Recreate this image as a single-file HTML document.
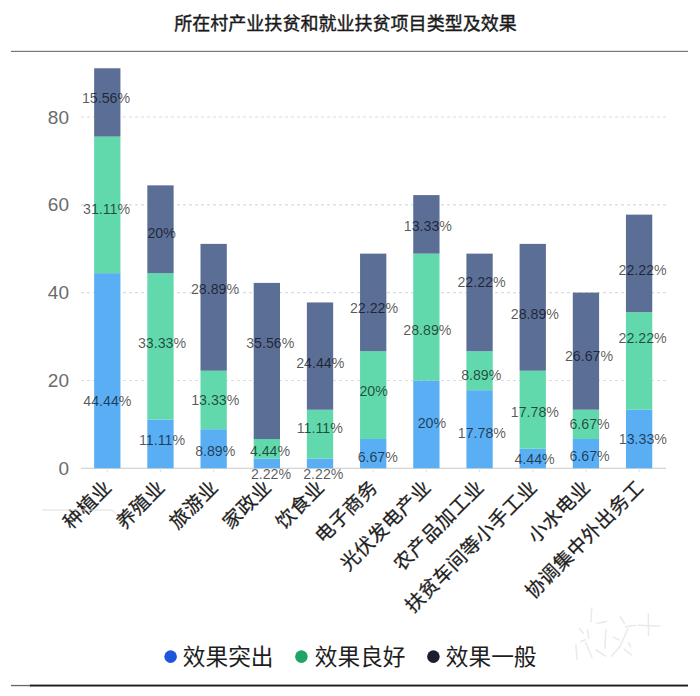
<!DOCTYPE html>
<html lang="zh">
<head>
<meta charset="utf-8">
<title>所在村产业扶贫和就业扶贫项目类型及效果</title>
<style>
html,body{margin:0;padding:0;background:#fff;}
body{width:700px;height:696px;overflow:hidden;font-family:"Liberation Sans",sans-serif;}
svg{display:block;font-family:"Liberation Sans",sans-serif;}
</style>
</head>
<body>
<svg width="700" height="696" viewBox="0 0 700 696">
<rect width="700" height="696" fill="#fff"/>
<rect x="11" y="50.8" width="677" height="1.2" fill="#777"/>
<rect x="11" y="684.9" width="20" height="1.3" fill="#666"/>
<rect x="30" y="684.6" width="658" height="1.9" fill="#1c1c1c"/>
<line x1="81.0" x2="666.0" y1="380.45" y2="380.45" stroke="#dcdcdc" stroke-width="1.1" stroke-dasharray="3 3"/>
<line x1="81.0" x2="666.0" y1="292.65" y2="292.65" stroke="#dcdcdc" stroke-width="1.1" stroke-dasharray="3 3"/>
<line x1="81.0" x2="666.0" y1="204.85" y2="204.85" stroke="#dcdcdc" stroke-width="1.1" stroke-dasharray="3 3"/>
<line x1="81.0" x2="666.0" y1="117.05" y2="117.05" stroke="#dcdcdc" stroke-width="1.1" stroke-dasharray="3 3"/>
<line x1="81.0" x2="666.0" y1="468.25" y2="468.25" stroke="#c8c8c8" stroke-width="1.2"/>
<text x="69" y="474.75" text-anchor="end" font-size="19" fill="#6b6b6b">0</text>
<text x="69" y="386.95" text-anchor="end" font-size="19" fill="#6b6b6b">20</text>
<text x="69" y="299.15" text-anchor="end" font-size="19" fill="#6b6b6b">40</text>
<text x="69" y="211.35" text-anchor="end" font-size="19" fill="#6b6b6b">60</text>
<text x="69" y="123.55" text-anchor="end" font-size="19" fill="#6b6b6b">80</text>
<rect x="94.14" y="273.16" width="26.3" height="195.09" fill="#5AAEF3"/>
<rect x="94.14" y="136.59" width="26.3" height="136.57" fill="#62D9AD"/>
<rect x="94.14" y="68.28" width="26.3" height="68.31" fill="#5B6E96"/>
<line x1="107.29" x2="107.29" y1="468.25" y2="472.25" stroke="#e2e2e2" stroke-width="1"/>
<rect x="147.32" y="419.48" width="26.3" height="48.77" fill="#5AAEF3"/>
<rect x="147.32" y="273.16" width="26.3" height="146.32" fill="#62D9AD"/>
<rect x="147.32" y="185.36" width="26.3" height="87.80" fill="#5B6E96"/>
<line x1="160.47" x2="160.47" y1="468.25" y2="472.25" stroke="#e2e2e2" stroke-width="1"/>
<rect x="200.50" y="429.22" width="26.3" height="39.03" fill="#5AAEF3"/>
<rect x="200.50" y="370.70" width="26.3" height="58.52" fill="#62D9AD"/>
<rect x="200.50" y="243.88" width="26.3" height="126.83" fill="#5B6E96"/>
<line x1="213.65" x2="213.65" y1="468.25" y2="472.25" stroke="#e2e2e2" stroke-width="1"/>
<rect x="253.69" y="458.50" width="26.3" height="9.75" fill="#5AAEF3"/>
<rect x="253.69" y="439.01" width="26.3" height="19.49" fill="#62D9AD"/>
<rect x="253.69" y="282.90" width="26.3" height="156.11" fill="#5B6E96"/>
<line x1="266.84" x2="266.84" y1="468.25" y2="472.25" stroke="#e2e2e2" stroke-width="1"/>
<rect x="306.87" y="458.50" width="26.3" height="9.75" fill="#5AAEF3"/>
<rect x="306.87" y="409.73" width="26.3" height="48.77" fill="#62D9AD"/>
<rect x="306.87" y="302.44" width="26.3" height="107.29" fill="#5B6E96"/>
<line x1="320.02" x2="320.02" y1="468.25" y2="472.25" stroke="#e2e2e2" stroke-width="1"/>
<rect x="360.05" y="438.97" width="26.3" height="29.28" fill="#5AAEF3"/>
<rect x="360.05" y="351.17" width="26.3" height="87.80" fill="#62D9AD"/>
<rect x="360.05" y="253.62" width="26.3" height="97.55" fill="#5B6E96"/>
<line x1="373.20" x2="373.20" y1="468.25" y2="472.25" stroke="#e2e2e2" stroke-width="1"/>
<rect x="413.23" y="380.45" width="26.3" height="87.80" fill="#5AAEF3"/>
<rect x="413.23" y="253.62" width="26.3" height="126.83" fill="#62D9AD"/>
<rect x="413.23" y="195.10" width="26.3" height="58.52" fill="#5B6E96"/>
<line x1="426.38" x2="426.38" y1="468.25" y2="472.25" stroke="#e2e2e2" stroke-width="1"/>
<rect x="466.41" y="390.20" width="26.3" height="78.05" fill="#5AAEF3"/>
<rect x="466.41" y="351.17" width="26.3" height="39.03" fill="#62D9AD"/>
<rect x="466.41" y="253.62" width="26.3" height="97.55" fill="#5B6E96"/>
<line x1="479.56" x2="479.56" y1="468.25" y2="472.25" stroke="#e2e2e2" stroke-width="1"/>
<rect x="519.60" y="448.76" width="26.3" height="19.49" fill="#5AAEF3"/>
<rect x="519.60" y="370.70" width="26.3" height="78.05" fill="#62D9AD"/>
<rect x="519.60" y="243.88" width="26.3" height="126.83" fill="#5B6E96"/>
<line x1="532.75" x2="532.75" y1="468.25" y2="472.25" stroke="#e2e2e2" stroke-width="1"/>
<rect x="572.78" y="438.97" width="26.3" height="29.28" fill="#5AAEF3"/>
<rect x="572.78" y="409.69" width="26.3" height="29.28" fill="#62D9AD"/>
<rect x="572.78" y="292.61" width="26.3" height="117.08" fill="#5B6E96"/>
<line x1="585.93" x2="585.93" y1="468.25" y2="472.25" stroke="#e2e2e2" stroke-width="1"/>
<rect x="625.96" y="409.73" width="26.3" height="58.52" fill="#5AAEF3"/>
<rect x="625.96" y="312.19" width="26.3" height="97.55" fill="#62D9AD"/>
<rect x="625.96" y="214.64" width="26.3" height="97.55" fill="#5B6E96"/>
<line x1="639.11" x2="639.11" y1="468.25" y2="472.25" stroke="#e2e2e2" stroke-width="1"/>
<g font-size="14.2" text-anchor="middle" fill="#000" fill-opacity="0.66">
<text x="106.00" y="103.00">15.56%</text>
<text x="106.60" y="213.70">31.11%</text>
<text x="107.40" y="406.20">44.44%</text>
<text x="161.60" y="237.50">20%</text>
<text x="162.00" y="347.50">33.33%</text>
<text x="162.00" y="445.00">11.11%</text>
<text x="215.00" y="294.20">28.89%</text>
<text x="215.25" y="404.50">13.33%</text>
<text x="215.25" y="456.20">8.89%</text>
<text x="270.25" y="347.50">35.56%</text>
<text x="270.00" y="456.20">4.44%</text>
<text x="271.00" y="479.40">2.22%</text>
<text x="320.25" y="367.50">24.44%</text>
<text x="319.75" y="433.00">11.11%</text>
<text x="323.30" y="479.40">2.22%</text>
<text x="374.00" y="312.50">22.22%</text>
<text x="373.60" y="396.20">20%</text>
<text x="377.75" y="462.00">6.67%</text>
<text x="427.90" y="231.20">13.33%</text>
<text x="427.40" y="335.00">28.89%</text>
<text x="431.90" y="428.35">20%</text>
<text x="481.50" y="287.00">22.22%</text>
<text x="481.25" y="380.00">8.89%</text>
<text x="481.90" y="437.50">17.78%</text>
<text x="534.90" y="318.70">28.89%</text>
<text x="534.90" y="417.00">17.78%</text>
<text x="534.60" y="463.70">4.44%</text>
<text x="589.00" y="361.20">26.67%</text>
<text x="589.60" y="429.20">6.67%</text>
<text x="589.60" y="461.20">6.67%</text>
<text x="642.60" y="275.00">22.22%</text>
<text x="642.60" y="343.00">22.22%</text>
<text x="642.90" y="444.20">13.33%</text>
</g>
<g font-family='"Liberation Sans","Noto Sans CJK SC",sans-serif' font-size="19.2" letter-spacing="0.5" text-anchor="end" fill="#1e1e1e" stroke="#1e1e1e" stroke-width="0.25" stroke-linejoin="round">
<text transform="translate(113.00 488.50) rotate(-45)" x="0" y="0">种植业</text>
<text transform="translate(166.18 488.50) rotate(-45)" x="0" y="0">养殖业</text>
<text transform="translate(219.36 488.50) rotate(-45)" x="0" y="0">旅游业</text>
<text transform="translate(272.55 488.50) rotate(-45)" x="0" y="0">家政业</text>
<text transform="translate(325.73 488.50) rotate(-45)" x="0" y="0">饮食业</text>
<text transform="translate(378.91 488.50) rotate(-45)" x="0" y="0">电子商务</text>
<text transform="translate(432.09 488.50) rotate(-45)" x="0" y="0">光伏发电产业</text>
<text transform="translate(485.27 488.50) rotate(-45)" x="0" y="0">农产品加工业</text>
<text transform="translate(538.45 488.50) rotate(-45)" x="0" y="0">扶贫车间等小手工业</text>
<text transform="translate(591.64 488.50) rotate(-45)" x="0" y="0">小水电业</text>
<text transform="translate(644.82 488.50) rotate(-45)" x="0" y="0">协调集中外出务工</text>
</g>
<text x="174.20" y="29.85" font-family='"Liberation Sans","Noto Sans CJK SC",sans-serif' font-size="18.05" fill="#1a1a1a" stroke="#1a1a1a" stroke-width="0.4" stroke-linejoin="round">所在村产业扶贫和就业扶贫项目类型及效果</text>
<circle cx="170.6" cy="656.6" r="6.3" fill="#1f55dc"/>
<text x="182.80" y="665.20" font-family='"Liberation Sans","Noto Sans CJK SC",sans-serif' font-size="22.7" fill="#1e1e1e">效果突出</text>
<circle cx="301.4" cy="656.6" r="6.3" fill="#21a366"/>
<text x="314.80" y="665.20" font-family='"Liberation Sans","Noto Sans CJK SC",sans-serif' font-size="22.7" fill="#1e1e1e">效果良好</text>
<circle cx="433.4" cy="656.6" r="6.3" fill="#1b1e2c"/>
<text x="445.80" y="665.20" font-family='"Liberation Sans","Noto Sans CJK SC",sans-serif' font-size="22.7" fill="#1e1e1e">效果一般</text>
<g fill="none" stroke="#e7e7e7" stroke-width="1.5" stroke-linecap="round" stroke-linejoin="round" opacity="0.85">
<polyline points="591.7,608.0 590.9,621.7"/>
<polyline points="579.2,628.6 583.7,633.2"/>
<polyline points="587.4,629.8 588.8,638.3"/>
<polyline points="596.9,623.6 606.6,621.5"/>
<polyline points="605.9,629.4 604.9,648.3"/>
<polyline points="575.8,644.5 577.1,658.9"/>
<polyline points="585.7,642.8 591.9,657.2"/>
<polyline points="596.0,650.0 605.6,656.2"/>
<polyline points="580.6,641.4 585.7,639.7"/>
<polyline points="620.3,616.6 624.5,623.6"/>
<polyline points="625.5,626.7 635.4,625.3"/>
<polyline points="613.1,637.1 619.3,639.9"/>
<polyline points="627.9,628.7 620.0,646.6 611.4,656.2"/>
<polyline points="624.3,649.1 631.3,655.0"/>
<polyline points="628.6,642.8 630.6,646.9"/>
<polyline points="648.3,614.0 648.5,635.6"/>
<polyline points="638.0,625.3 659.8,626.3"/>
</g>
<polyline points="42,510 112,510 116,513.5" fill="none" stroke="#dedede" stroke-width="1"/>
</svg>
</body>
</html>
